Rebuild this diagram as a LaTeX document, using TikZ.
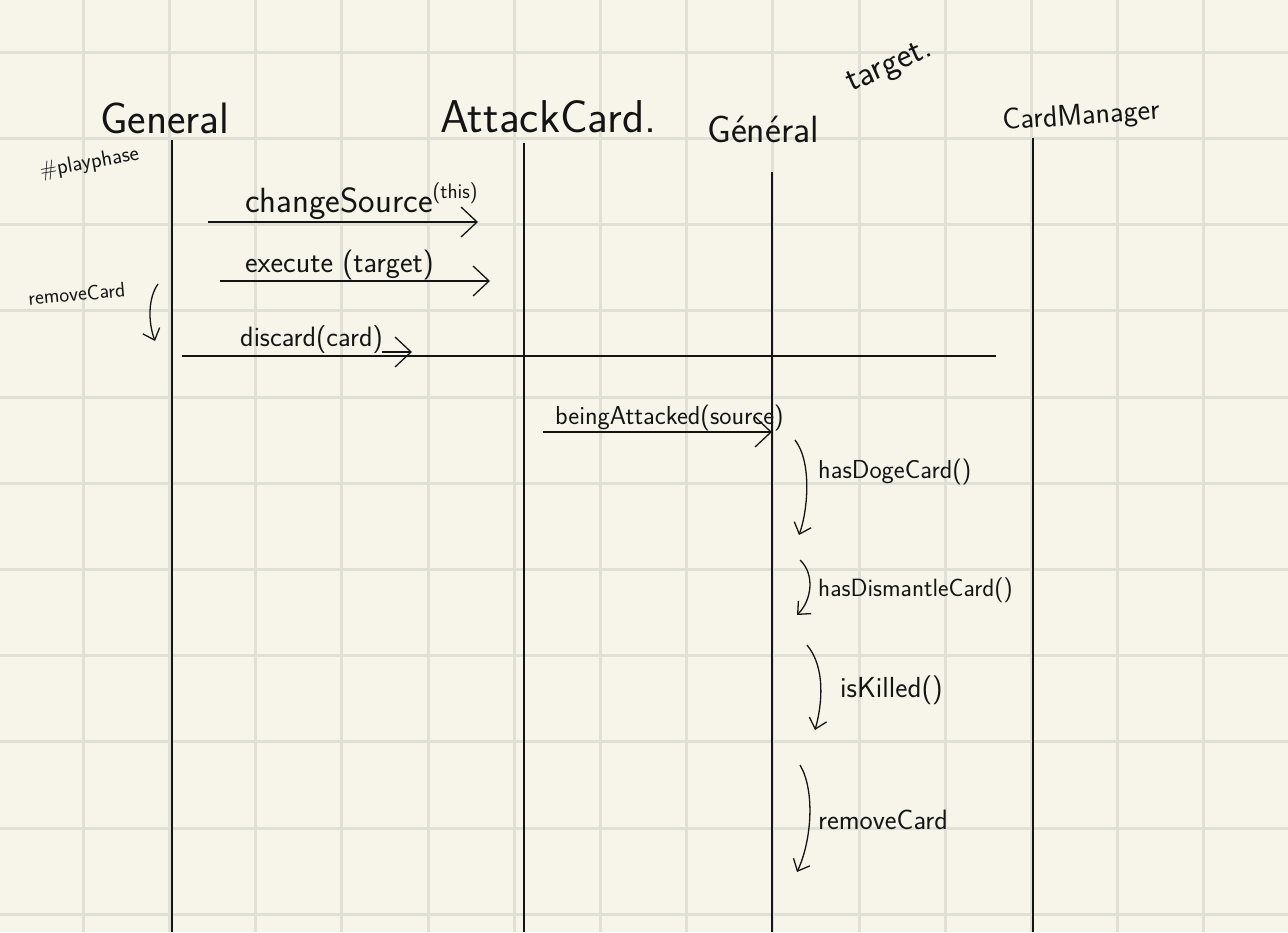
\documentclass[tikz,border=0pt]{standalone}
\usetikzlibrary{arrows.meta,positioning,calc}
\definecolor{paper}{RGB}{247,245,234}
\definecolor{gridline}{RGB}{225,224,214}
\definecolor{ink}{RGB}{20,20,20}
\tikzstyle{head} = [
    font=\sffamily\fontsize{44}{48}\selectfont,
    text=ink,
    inner sep=0pt,
    anchor=base west
]
\tikzstyle{msglabel} = [
    font=\sffamily\fontsize{30}{32}\selectfont,
    text=ink,
    inner sep=0pt,
    anchor=base west
]
\tikzstyle{note} = [
    font=\sffamily\fontsize{26}{28}\selectfont,
    text=ink,
    inner sep=0pt,
    anchor=west
]
\tikzstyle{lifeline} = [
    draw=ink,
    line width=1.3pt
]
\tikzstyle{msg} = [
    draw=ink,
    line width=1.3pt,
    -{Straight Barb[length=16pt,width=30pt,line width=1.3pt]}
]
\tikzstyle{selfcall} = [
    draw=ink,
    line width=1.3pt,
    -{Straight Barb[length=10pt,width=18pt,line width=1.3pt]}
]
\begin{document}
\begin{tikzpicture}[x=1pt, y=-1pt]
        % Paper
        \fill[paper] (0,0) rectangle (1288,932);
        \useasboundingbox (0,0) rectangle (1288,932);
        \foreach \k in {1,...,14}
            \draw[gridline, line width=3pt] ({-3+86.2*\k},0) -- ({-3+86.2*\k},932);
        \foreach \k in {1,...,11}
            \draw[gridline, line width=3pt] (0,{-34+86.2*\k}) -- (1288,{-34+86.2*\k});

        % Heads
        \node[head] (gen) at (100,133) {General};
        \node[head, font=\sffamily\fontsize{46}{50}\selectfont] (atk) at (440,132) {AttackCard.};
        \node[head, font=\sffamily\fontsize{38}{42}\selectfont] (tgt) at (707,142) {Général};
        \node[head, font=\sffamily\fontsize{35}{38}\selectfont, rotate=24, anchor=center] (tgtnote) at (890,68) {target.};
        \node[head, font=\sffamily\fontsize{30}{33}\selectfont, rotate=4] (mgr) at (1003,130) {CardManager};

        % Lifelines
        \coordinate (gen top) at (172,140);
        \coordinate (gen bot) at (172,932);
        \coordinate (atk top) at (524,143);
        \coordinate (atk bot) at (524,932);
        \coordinate (tgt top) at (772,172);
        \coordinate (tgt bot) at (772,932);
        \coordinate (mgr top) at (1033,138);
        \coordinate (mgr bot) at (1033,932);
        \draw[lifeline] (gen top) -- (gen bot);
        \draw[lifeline] (atk top) -- (atk bot);
        \draw[lifeline] (tgt top) -- (tgt bot);
        \draw[lifeline] (mgr top) -- (mgr bot);

        % Side notes
        \node[note, font=\sffamily\fontsize{22}{24}\selectfont, rotate=10] (phase) at (40,172) {\#playphase};
        \node[note, font=\sffamily\fontsize{21}{22}\selectfont, rotate=5] (rmnote) at (28,298) {removeCard};
        \coordinate (rm a) at (158,284);
        \coordinate (rm b) at (155,341);
        \draw[selfcall] (rm a) .. controls (148,298) and (148,322) .. (rm b);

        % Messages
        \coordinate (m1 a) at (208,222);
        \coordinate (m1 b) at (478,222);
        \draw[msg] (m1 a) -- (m1 b);
        \node[msglabel, font=\sffamily\fontsize{35}{37}\selectfont] (m1) at (245,212)
            {changeSource\raisebox{14pt}{\fontsize{21}{21}\selectfont(this)}};

        \coordinate (m2 a) at (220,281);
        \coordinate (m2 b) at (490,281);
        \draw[msg] (m2 a) -- (m2 b);
        \node[msglabel] (m2) at (245,272) {execute (target)};

        \coordinate (m3 a) at (182,356);
        \coordinate (m3 tip) at (412,352);
        \coordinate (m3 b) at (996,356);
        \draw[lifeline] (m3 a) -- (m3 b);
        \draw[msg] ($(m3 tip)+(-30,0)$) -- (m3 tip);
        \node[msglabel, font=\sffamily\fontsize{28}{30}\selectfont] (m3) at (240,346) {discard(card)};

        \coordinate (m4 a) at (543,432);
        \coordinate (m4 b) at (772,432);
        \draw[msg] (m4 a) -- (m4 b);
        \node[msglabel, font=\sffamily\fontsize{26}{28}\selectfont] (m4) at (555,424) {beingAttacked(source)};

        % Self calls on target
        \coordinate (s1 a) at (795,440);
        \coordinate (s1 b) at (799,535);
        \draw[selfcall] (s1 a) .. controls (812,462) and (808,510) .. (s1 b);
        \node[note] (s1) at (818,472) {hasDogeCard()};

        \coordinate (s2 a) at (800,560);
        \coordinate (s2 b) at (797,615);
        \draw[selfcall] (s2 a) .. controls (815,574) and (812,600) .. (s2 b);
        \node[note, font=\sffamily\fontsize{25}{27}\selectfont] (s2) at (818,590) {hasDismantleCard()};

        \coordinate (s3 a) at (807,645);
        \coordinate (s3 b) at (815,730);
        \draw[selfcall] (s3 a) .. controls (826,668) and (822,705) .. (s3 b);
        \node[note, font=\sffamily\fontsize{29}{31}\selectfont] (s3) at (840,690) {isKilled()};

        \coordinate (s4 a) at (800,765);
        \coordinate (s4 b) at (797,872);
        \draw[selfcall] (s4 a) .. controls (815,790) and (812,840) .. (s4 b);
        \node[note, font=\sffamily\fontsize{28}{30}\selectfont] (s4) at (818,820) {removeCard};
    \end{tikzpicture}
\end{document}
